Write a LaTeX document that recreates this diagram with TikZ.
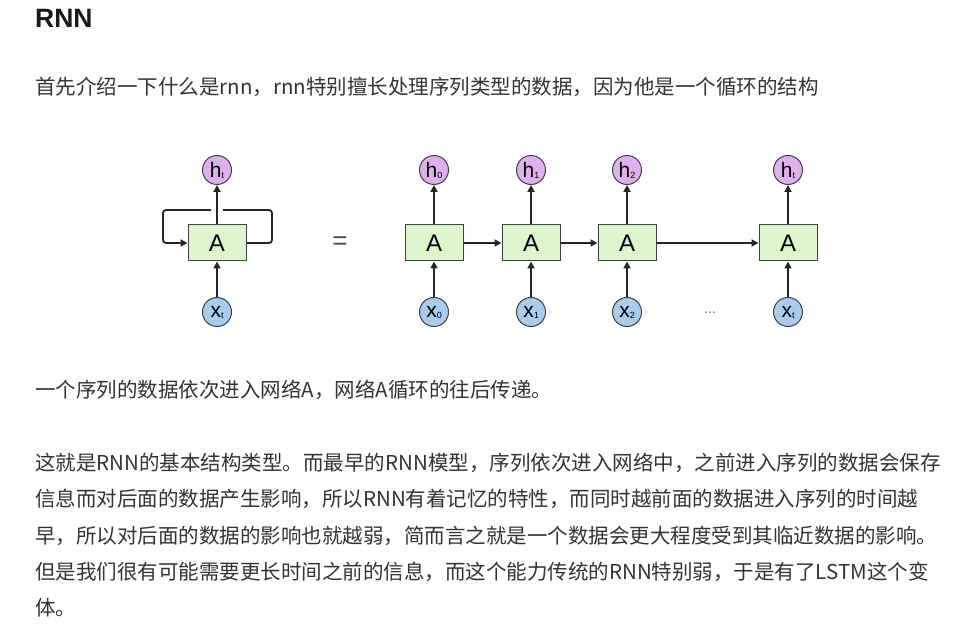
\documentclass[tikz,border=0pt]{standalone}
\usepackage{fontspec}
\setmainfont{Liberation Sans}
\newfontfamily\cjk{Noto Sans CJK SC}
\usetikzlibrary{arrows.meta}
\definecolor{boxg}{HTML}{DDF5CC}
\definecolor{hpink}{HTML}{DDB0EE}
\definecolor{xblue}{HTML}{A9CCEC}
\definecolor{txt}{HTML}{333333}
\begin{document}
\begin{tikzpicture}[x=1pt,y=-1pt,
  cell/.style={draw=black!75,fill=boxg,line width=1pt,minimum width=58pt,minimum height=36pt,inner sep=0pt,font=\fontsize{24}{24}\selectfont},
  hc/.style={circle,draw=black!75,fill=hpink,line width=1pt,minimum size=29pt,inner sep=0pt,font=\fontsize{21}{21}\selectfont},
  xc/.style={circle,draw=black!75,fill=xblue,line width=1pt,minimum size=29pt,inner sep=0pt,font=\fontsize{21}{21}\selectfont},
  ar/.style={-{Triangle[length=7pt,width=7pt]},line width=1.8pt,black!85},
  para/.style={anchor=base west,inner sep=0pt,text=txt,font=\cjk\fontsize{20.5}{20.5}\selectfont}]
\useasboundingbox (0,0) rectangle (975,644);
\fill[white] (0,0) rectangle (975,644);
\node[anchor=base west,inner sep=0pt,font=\bfseries\fontsize{26.5}{26.5}\selectfont,text=black!90] (title) at (35,28) {RNN};
\node[para] (p1) at (35,95) {首先介绍一下什么是rnn，rnn特别擅长处理序列类型的数据，因为他是一个循环的结构};
% folded
\node[cell] (A) at (217,243) {A};
\node[hc] (h) at (217,170) {h\raisebox{-1pt}{\fontsize{9}{9}\selectfont t}};
\node[xc] (x) at (217,312) {x\raisebox{-1pt}{\fontsize{9}{9}\selectfont t}};
\draw[ar] (A) -- (h);
\draw[ar] (x) -- (A);
\draw[line width=1.8pt,black!85,rounded corners=3pt] (A.east) -- (272,243) -- (272,210) -- (223,210);
\draw[ar,rounded corners=3pt] (211,210) -- (163,210) -- (163,243) -- (A.west);
\node[font=\fontsize{26}{26}\selectfont,text=black!70] (eq) at (340,243) {=};
% unrolled
\foreach \n/\xx/\s in {0/434/0,1/531/1,2/627/2,3/788/t}{
  \node[cell] (A\n) at (\xx,243) {A};
  \node[hc] (h\n) at (\xx,170) {h\raisebox{-1pt}{\fontsize{9}{9}\selectfont \s}};
  \node[xc] (x\n) at (\xx,312) {x\raisebox{-1pt}{\fontsize{9}{9}\selectfont \s}};
  \draw[ar] (A\n) -- (h\n);
  \draw[ar] (x\n) -- (A\n);
}
\draw[ar] (A0) -- (A1);
\draw[ar] (A1) -- (A2);
\draw[ar] (A2) -- (A3);
\node[text=black!60,font=\fontsize{14}{14}\selectfont] (dots) at (710,313) {...};
\node[para] (p2) at (35,398) {一个序列的数据依次进入网络A，网络A循环的往后传递。};
\node[para] (p3) at (35,470) {这就是RNN的基本结构类型。而最早的RNN模型，序列依次进入网络中，之前进入序列的数据会保存};
\node[para] (p4) at (35,506) {信息而对后面的数据产生影响，所以RNN有着记忆的特性，而同时越前面的数据进入序列的时间越};
\node[para] (p5) at (35,543) {早，所以对后面的数据的影响也就越弱，简而言之就是一个数据会更大程度受到其临近数据的影响。};
\node[para] (p6) at (35,579) {但是我们很有可能需要更长时间之前的信息，而这个能力传统的RNN特别弱，于是有了LSTM这个变};
\node[para] (p7) at (35,615) {体。};
\end{tikzpicture}
\end{document}
